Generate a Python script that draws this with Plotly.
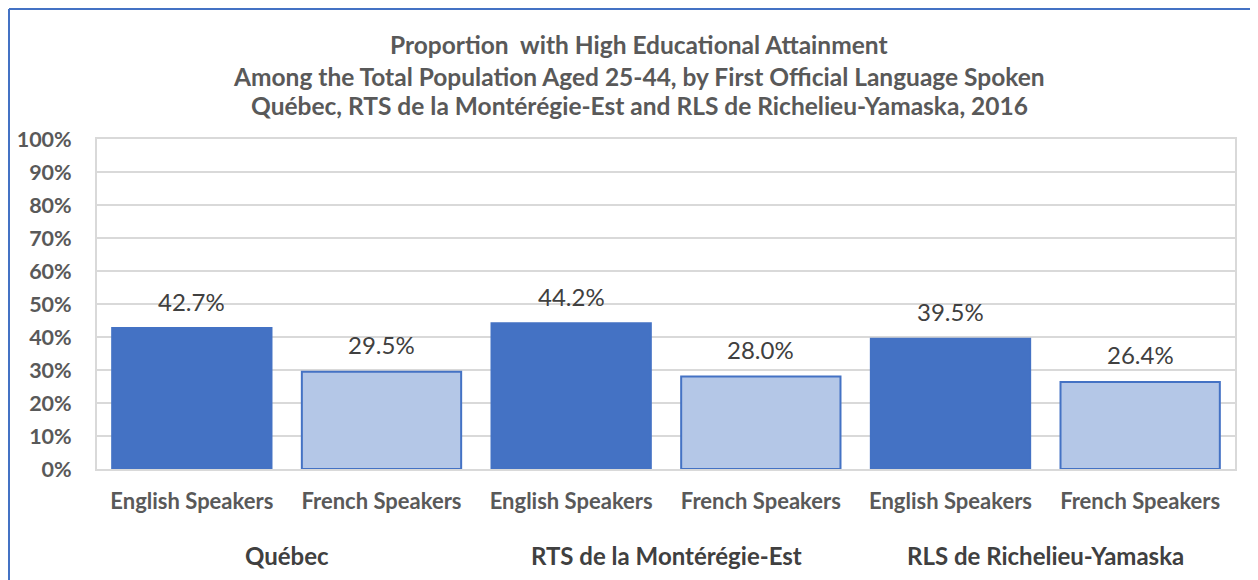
import plotly.graph_objects as go

groups = ["Québec", "RTS de la Montérégie-Est", "RLS de Richelieu-Yamaska"]
languages = ["English Speakers", "French Speakers"]
values = [42.7, 29.5, 44.2, 28.0, 39.5, 26.4]
value_labels = ["42.7%", "29.5%", "44.2%", "28.0%", "39.5%", "26.4%"]
y_ticks = [0, 10, 20, 30, 40, 50, 60, 70, 80, 90, 100]
y_tick_labels = ["0%", "10%", "20%", "30%", "40%", "50%", "60%", "70%", "80%", "90%", "100%"]
title_lines = [
    "Proportion  with High Educational Attainment",
    "Among the Total Population Aged 25-44, by First Official Language Spoken",
    "Québec, RTS de la Montérégie-Est and RLS de Richelieu-Yamaska, 2016",
]

FONT = "Lato"
DARK = "#4472C4"
LIGHT = "#B4C7E7"
GREY = "#595959"

# page has an 8px body margin; figure sized so plot area lands where the reference has it
W, H = 1250, 572
ML, MR, MT, MB = 89, 23, 131, 111
PW, PH = W - ML - MR, H - MT - MB


def px_to_paper_y(img_y):
    fy = img_y - 8
    return 1 + (MT - fy) / PH


def px_to_paper_x(img_x):
    fx = img_x - 8
    return (fx - ML) / PW


x_pos = list(range(len(values)))
cat_labels = [languages[i % 2] for i in x_pos]
colors = [DARK if i % 2 == 0 else LIGHT for i in x_pos]

fig = go.Figure()
fig.add_trace(go.Bar(
    x=x_pos, y=values,
    marker=dict(color=colors, line=dict(color=DARK, width=2)),
    width=0.84,
    hoverinfo="skip",
))

annotations = []
for xi, v, t in zip(x_pos, values, value_labels):
    annotations.append(dict(x=xi, y=v, xref="x", yref="y", text=t, showarrow=False,
                            yanchor="middle", yshift=27,
                            font=dict(family=FONT, size=24, color="#404040")))
for gi, g in enumerate(groups):
    annotations.append(dict(x=gi * 2 + 0.5, y=px_to_paper_y(555), xref="x", yref="paper",
                            text="<b>%s</b>" % g, showarrow=False, yanchor="middle",
                            font=dict(family=FONT, size=24, color="#404040")))
for line, py in zip(title_lines, [44, 76, 106]):
    annotations.append(dict(x=px_to_paper_x(639), y=px_to_paper_y(py), xref="paper", yref="paper",
                            text="<b>%s</b>" % line, showarrow=False,
                            yanchor="middle", xanchor="center",
                            font=dict(family=FONT, size=24.5, color=GREY)))

fig.update_layout(
    width=W, height=H,
    margin=dict(l=ML, r=MR, t=MT, b=MB, autoexpand=False),
    paper_bgcolor="white", plot_bgcolor="white",
    showlegend=False,
    annotations=annotations,
    xaxis=dict(
        tickmode="array", tickvals=x_pos, ticktext=["<b>%s</b>" % c for c in cat_labels],
        range=[-0.5, 5.5], showgrid=False, zeroline=False,
        showline=True, linecolor="#D9D9D9", linewidth=2, mirror=True,
        ticks="", tickfont=dict(family=FONT, size=22, color=GREY),
        ticklabelstandoff=12,
    ),
    yaxis=dict(
        range=[0, 100], tickmode="array", tickvals=y_ticks,
        ticktext=["<b>%s</b>" % t for t in y_tick_labels],
        showgrid=True, gridcolor="#D9D9D9", gridwidth=2, zeroline=False,
        showline=True, linecolor="#D9D9D9", linewidth=2, mirror=True,
        ticks="", tickfont=dict(family=FONT, size=21.5, color=GREY),
        ticklabelstandoff=19,
    ),
    shapes=[
        dict(type="line", xref="paper", yref="paper",
             x0=(1 - ML) / PW, x1=(W + 10 - ML) / PW,
             y0=1 + (MT - 1) / PH, y1=1 + (MT - 1) / PH,
             line=dict(color=DARK, width=2)),
        dict(type="line", xref="paper", yref="paper",
             x0=(1 - ML) / PW, x1=(1 - ML) / PW,
             y0=1 + (MT - 1) / PH, y1=-(MB + 10) / PH,
             line=dict(color=DARK, width=2)),
    ],
)

fig.write_html("out.html")
